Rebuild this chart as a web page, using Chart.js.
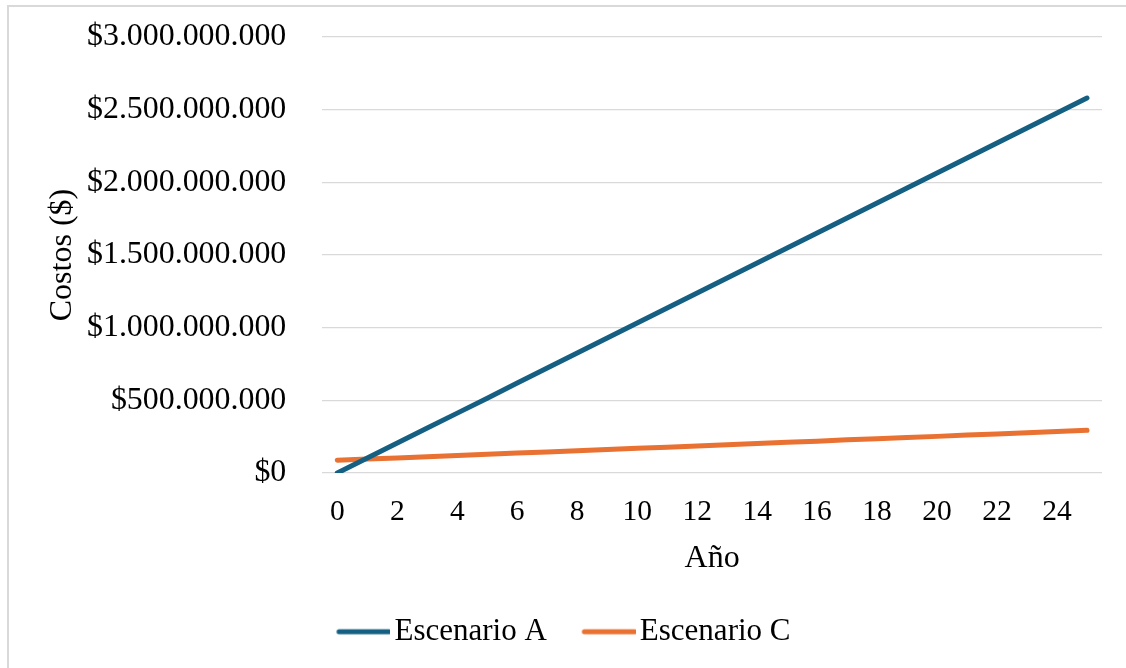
<!DOCTYPE html>
<html>
<head>
<meta charset="utf-8">
<script src="https://cdn.jsdelivr.net/npm/chart.js@4.4.1/dist/chart.umd.min.js"></script>
<style>
  html, body { margin: 0; padding: 0; background: #ffffff; }
  #wrap { position: relative; width: 1126px; height: 668px; overflow: hidden; }
  #frame { position: absolute; left: 7px; top: 5px; width: 1200px; height: 700px;
           border-left: 2px solid #d9d9d9; border-top: 2px solid #d9d9d9; pointer-events: none; }
  canvas { position: absolute; left: 0; top: 0; }
</style>
</head>
<body>
<div id="wrap">
  <canvas id="c" width="1126" height="668"></canvas>
  <div id="frame"></div>
</div>
<script>
// ---- data ----
const years = [0,1,2,3,4,5,6,7,8,9,10,11,12,13,14,15,16,17,18,19,20,21,22,23,24,25];
const xTickLabels = ['0','2','4','6','8','10','12','14','16','18','20','22','24'];
const escenarioA = [0, 103e6, 206e6, 309e6, 412e6, 515e6, 619e6, 722e6, 826e6, 929e6, 1032e6, 1135e6, 1239e6,
                    1342e6, 1445e6, 1548e6, 1651e6, 1755e6, 1858e6, 1961e6, 2064e6, 2167e6, 2271e6, 2374e6, 2477e6, 2580e6];
const escenarioC = [88e6, 96e6, 104e6, 112e6, 120e6, 129e6, 137e6, 145e6, 153e6, 162e6, 170e6, 178e6, 186e6,
                    195e6, 203e6, 211e6, 219e6, 228e6, 236e6, 244e6, 252e6, 261e6, 269e6, 277e6, 286e6, 294e6];
const seriesNames = ['Escenario A', 'Escenario C'];
const yMin = 0, yMax = 3000000000, yStep = 500000000;

// ---- styles ----
const colA = '#156082', colC = '#E97132';
const FONT = "'Liberation Serif', 'Times New Roman', serif";
const YFS = 31.9;   // y tick font
const XFS = 29.5;   // x tick font
const TFS = 32;     // axis titles
const LFS = 31;     // legend

function fmtMoney(v) {
  const s = Math.round(v).toString().replace(/\B(?=(\d{3})+(?!\d))/g, '.');
  return '$' + s;
}

// legend swatch images (line with round caps), offset within a wider transparent canvas
const LEG_PAD = 10, LEG_BOX = 67.5, LINE_LEN = 55, HALF = 45;
function makeSwatch(color) {
  const cv = document.createElement('canvas');
  cv.width = HALF * 2; cv.height = 10;
  const g = cv.getContext('2d');
  const right = (LEG_BOX + LFS / 2 - 3) - (LEG_BOX / 2 - HALF);
  const left = right - LINE_LEN;
  g.strokeStyle = color; g.lineWidth = 5; g.lineCap = 'round';
  g.beginPath(); g.moveTo(left + 2.5, 5); g.lineTo(right - 2.5, 5); g.stroke();
  return cv;
}
const swatches = [makeSwatch(colA), makeSwatch(colC)];

new Chart(document.getElementById('c'), {
  type: 'line',
  data: {
    labels: years,
    datasets: [
      { label: seriesNames[0], data: escenarioA, borderColor: colA, backgroundColor: colA,
        borderWidth: 5, pointRadius: 0, tension: 0, borderCapStyle: 'round', borderJoinStyle: 'round' },
      { label: seriesNames[1], data: escenarioC, borderColor: colC, backgroundColor: colC,
        borderWidth: 5, pointRadius: 0, tension: 0, borderCapStyle: 'round', borderJoinStyle: 'round' }
    ]
  },
  options: {
    responsive: false,
    devicePixelRatio: 1,
    animation: false,
    events: [],
    layout: { autoPadding: false, padding: { left: 0, right: 24, top: 37, bottom: 10.75 } },
    scales: {
      x: {
        type: 'category',
        offset: true,
        grid: { display: false, drawTicks: false },
        border: { display: false },
        ticks: {
          autoSkip: false, maxRotation: 0, minRotation: 0, padding: 21.5,
          color: '#000', font: { family: FONT, size: XFS },
          callback: function (val, idx) {
            const l = String(this.getLabelForValue(val));
            return xTickLabels.includes(l) ? l : '';
          }
        },
        title: { display: true, text: 'Año', color: '#000', font: { family: FONT, size: TFS },
                 padding: { top: -12.3, bottom: 28.75 } }
      },
      y: {
        min: yMin, max: yMax,
        grid: { color: '#d9d9d9', lineWidth: 1.3, drawTicks: true, tickLength: 36, tickColor: 'rgba(0,0,0,0)' },
        border: { display: false },
        ticks: { stepSize: yStep, padding: 0, color: '#000', font: { family: FONT, size: YFS },
                 callback: (v) => fmtMoney(v) },
        title: { display: true, text: 'Costos ($)', color: '#000', font: { family: FONT, size: TFS },
                 padding: { top: 43.8, bottom: 4.8 } }
      }
    },
    plugins: {
      tooltip: { enabled: false },
      legend: {
        position: 'bottom',
        align: 'center',
        labels: {
          color: '#000',
          font: { family: FONT, size: LFS },
          usePointStyle: true,
          pointStyleWidth: LEG_BOX,
          padding: LEG_PAD,
          generateLabels: function (chart) {
            const items = Chart.defaults.plugins.legend.labels.generateLabels(chart);
            items.forEach((it, i) => { it.pointStyle = swatches[i]; });
            return items;
          }
        }
      }
    }
  }
});
</script>
</body>
</html>
